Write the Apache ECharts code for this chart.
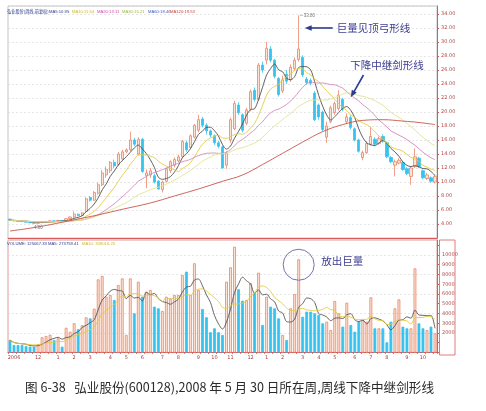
<!DOCTYPE html>
<html><head><meta charset="utf-8">
<script src="https://cdn.jsdelivr.net/npm/echarts/dist/echarts.min.js"></script>
<style>html,body{margin:0;padding:0;background:#fff;}#c{width:486px;height:411px;}</style>
</head><body><div id="c"></div>
<script>
// ---- data (weekly bars) ----
const firstWeek = [2006, 9, 13]; // 2006-10-13, weekly bars
const opens = [4.70,4.55,4.45,4.40,4.35,4.25,4.20,4.10,4.20,4.30,
4.35,4.45,4.35,4.50,4.40,4.75,5.00,5.40,5.20,5.80,
7.80,7.40,8.40,9.60,11.00,11.60,12.80,12.50,13.30,14.30,
14.60,16.00,14.00,16.10,10.90,11.00,10.90,10.10,8.90,10.10,
11.60,12.40,13.00,13.60,15.60,14.90,16.40,17.40,19.00,18.10,
17.30,16.60,15.60,15.00,12.40,16.00,17.60,21.00,19.60,18.40,
20.40,23.10,21.80,26.70,27.40,29.00,27.40,24.80,23.00,25.40,
24.60,26.20,27.50,27.80,24.70,24.50,22.70,21.00,20.00,16.40,
18.60,19.90,20.50,21.80,18.60,19.20,17.60,16.00,13.50,14.20,
15.40,16.10,15.50,16.50,15.60,13.50,12.40,12.70,12.80,11.90,
10.80,12.20,13.40,11.60,10.50,10.60,10.00];
const closes = [4.55,4.45,4.40,4.35,4.25,4.20,4.10,4.20,4.30,4.35,
4.45,4.35,4.50,4.40,4.75,5.00,5.40,5.20,5.60,7.60,
7.40,8.50,9.60,11.30,11.80,12.80,12.30,14.00,14.30,14.60,
16.00,15.40,16.10,11.50,11.30,11.60,10.00,9.00,10.00,11.90,
12.90,13.20,13.60,15.80,14.60,16.60,18.10,18.90,18.10,17.30,
16.70,15.60,15.10,12.00,14.10,18.90,21.20,19.90,17.40,20.30,
22.90,21.80,26.70,26.00,29.10,27.40,25.10,22.50,24.60,24.40,
26.40,27.40,29.00,25.30,24.20,24.10,18.90,19.30,17.50,18.00,
20.60,21.20,22.40,20.40,19.30,17.80,16.00,14.40,14.20,15.50,
16.50,15.40,16.20,15.90,13.60,12.90,12.90,13.10,11.80,11.20,
12.00,13.60,12.20,10.60,11.00,10.10,10.80];
const lows = [4.45,4.40,4.30,4.25,4.20,4.10,4.05,4.00,4.15,4.20,
4.30,4.30,4.30,4.35,4.35,4.70,4.90,5.10,5.10,5.70,
7.20,7.30,8.20,9.40,10.60,11.30,12.00,12.30,13.00,14.10,
14.40,15.10,13.80,11.30,9.10,10.60,9.80,8.90,8.50,9.90,
11.30,12.10,12.80,13.40,14.30,14.70,16.20,17.10,17.80,16.80,
16.40,15.30,14.80,11.90,11.90,15.60,17.40,19.60,17.10,18.10,
20.10,21.50,21.60,25.60,26.80,27.10,24.80,22.20,22.70,24.00,
24.30,25.90,27.20,25.00,23.90,23.80,18.70,18.90,17.20,15.60,
18.40,19.60,20.20,20.10,18.30,17.50,15.80,14.20,13.10,14.00,
15.20,15.10,15.30,15.60,13.40,12.70,10.80,12.50,11.60,11.00,
9.60,12.00,12.00,10.40,10.30,9.90,9.80];
const highs = [4.75,4.60,4.50,4.45,4.40,4.30,4.25,4.25,4.35,4.45,
4.50,4.55,4.60,4.55,4.85,5.10,5.80,5.50,5.70,7.80,
8.00,8.70,9.90,11.70,12.20,13.00,13.20,14.30,14.60,14.80,
17.20,16.30,16.40,16.30,11.80,12.00,11.20,10.30,10.20,12.10,
13.10,13.50,13.90,16.00,15.90,16.80,18.30,19.60,19.30,18.40,
17.50,16.80,15.90,15.20,14.40,19.20,21.60,21.40,19.80,20.60,
23.20,23.50,27.00,27.20,30.00,29.40,27.60,25.00,25.20,26.00,
26.80,27.80,33.80,28.10,25.00,24.80,23.00,21.20,20.20,18.60,
20.90,21.50,23.10,22.00,19.80,19.50,17.80,16.20,14.50,15.80,
17.90,16.40,16.50,16.80,15.80,13.70,13.20,13.40,13.00,12.10,
12.20,14.80,13.60,11.80,11.30,10.80,11.00];
const volumes = [1280,770,770,770,670,600,600,870,1560,1690,
1830,1280,1450,600,2540,2130,3000,2380,2800,3610,
3500,4500,7500,7850,5720,5900,5380,6920,7600,1800,
7600,4020,7260,5720,6240,6400,4700,4530,4260,5720,
5560,5900,5900,7950,8290,5900,9150,6400,4460,3610,
2070,2480,2070,1800,7260,8740,10850,6480,5310,5390,
7100,6070,8190,2820,5720,4700,4530,3500,1800,1280,
4530,6000,9560,3670,4190,4190,4020,3850,2990,3160,
2300,5280,4020,2650,5110,2820,2130,3160,3330,3160,
5660,2480,2480,2480,1050,3160,4530,5450,2650,2480,
2480,8630,2990,2480,2300,2650,1970];
// long red average line, key points [bar index, price]
const longMaKeys = [[0,3.0],[5,3.4],[10,3.9],[16,4.6],[22,5.3],[28,6.1],[35,7.0],[41,8.0],[47,9.0],[53,10.1],[58,11.0],[63,12.5],[68,14.1],[73,15.7],[78,17.2],[83,18.2],[88,18.8],[93,18.9],[98,18.7],[102,18.5],[106,18.2]];
const priceTicks = {min:2, max:35.14, step:2};
const volTicks = {min:0, max:11538, step:1000, gridStep:2000};
const priceHeader = [['弘业股份(周线,前复权)','#2a3a8a'],['MA5:10.95','#2a3a8a'],['MA10:11.64','#d2b820'],['MA20:13.11','#cc4aa8'],['MA30:15.21','#9cb83c'],['MA60:18.46','#3c5cc0'],['MA120:19.53','#d04040']];
const priceHeaderX = [7, 49, 72, 97, 122, 148, 170];
const volHeader = [['VOLUME: 125067.33','#2a3a8a'],['MA5: 273759.41','#2a3a8a'],['MA10: 338016.25','#d2b820']];
const volHeaderX = [7, 48, 82];
const notes = {top:'巨量见顶弓形线', sword:'下降中继剑形线', vol:'放出巨量'};
const caption = '图 6-38   弘业股份(600128),2008 年 5 月 30 日所在周,周线下降中继剑形线';

// ---- derived ----
const N = opens.length;
const categories = [], months = [];
for (let i = 0; i < N; i++) {
  const d = new Date(Date.UTC(firstWeek[0], firstWeek[1], firstWeek[2]) + i * 7 * 86400000);
  const m = d.getUTCMonth() + 1;
  months.push(m);
  categories.push(d.getUTCFullYear() + '-' + String(m).padStart(2,'0') + '-' + String(d.getUTCDate()).padStart(2,'0'));
}
function ma(arr, n) {
  return arr.map((v, i) => {
    const s = Math.max(0, i - n + 1); let t = 0;
    for (let j = s; j <= i; j++) t += arr[j];
    return +(t / (i - s + 1)).toFixed(3);
  });
}
const showLabel = i => i === 1 || (i >= 5 && months[i] !== months[i - 1]);
const candleData = opens.map((o, i) => [o, closes[i], lows[i], highs[i]]);
const upStyle = {color:'#fde3d4', borderColor:'#e8866a', borderWidth:0.8};
const downStyle = {color:'#38c2ee', borderColor:'#38c2ee', borderWidth:0.8};
const volData = volumes.map((v, i) => ({value:v, itemStyle: closes[i] >= opens[i] ? upStyle : downStyle}));
const red = '#d85a5a';
const lineS = (name, data, color, xi, yi) => ({name, type:'line', data, xAxisIndex:xi, yAxisIndex:yi, showSymbol:false, symbol:'none', smooth:0.3, silent:true, z:4, lineStyle:{color, width:0.9}});

const chart = echarts.init(document.getElementById('c'));
chart.setOption({
  animation:false,
  backgroundColor:'#ffffff',
  textStyle:{fontFamily:'"DejaVu Sans","Noto Sans CJK SC",sans-serif'},
  grid:[
    {left:8, top:6, width:429, height:232, show:true, borderColor:'#b4b4b4', borderWidth:0.8},
    {left:8, top:240, width:429, height:112.5, show:true, borderColor:'#d88080', borderWidth:0.8}
  ],
  xAxis:[
    {type:'category', gridIndex:0, data:categories, boundaryGap:true,
     axisLine:{lineStyle:{color:red, width:1}}, axisTick:{show:false}, axisLabel:{show:false}, splitLine:{show:false}},
    {type:'category', gridIndex:1, data:categories, boundaryGap:true,
     axisLine:{lineStyle:{color:red, width:1}},
     axisTick:{show:true, interval:(i) => i % 2 === 0, length:1.5, lineStyle:{color:red, width:0.8}},
     axisLabel:{interval:(i) => showLabel(i), formatter:(v, i) => i === 1 ? '2006' : String(months[i]), fontSize:5, color:'#a83c3c', margin:2.5}}
  ],
  yAxis:[
    {type:'value', gridIndex:0, position:'right', min:priceTicks.min, max:priceTicks.max, interval:priceTicks.step,
     axisLine:{show:true, lineStyle:{color:red}}, axisTick:{show:true, length:2, lineStyle:{color:red}},
     axisLabel:{fontSize:5, color:'#b04848', margin:4, formatter:v => v.toFixed(2), showMinLabel:false, showMaxLabel:false},
     splitLine:{show:true, lineStyle:{color:'#d6d6d6', type:[2,2], width:0.6}}},
    {type:'value', gridIndex:1, position:'right', min:volTicks.min, max:volTicks.max, interval:volTicks.step,
     axisLine:{show:true, lineStyle:{color:red}}, axisTick:{show:true, length:2, lineStyle:{color:red}},
     axisLabel:{fontSize:5, color:'#b04848', margin:5, showMaxLabel:false, formatter:v => (v >= 2000 && v <= 10000) ? String(v) : ''},
     splitLine:{show:false}},
    {type:'value', gridIndex:1, position:'right', min:volTicks.min, max:volTicks.max, interval:volTicks.gridStep,
     axisLine:{show:false}, axisTick:{show:false}, axisLabel:{show:false},
     splitLine:{show:true, lineStyle:{color:'#d6d6d6', type:[2,2], width:0.6}}}
  ],
  series:[
    {name:'K', type:'candlestick', data:candleData, xAxisIndex:0, yAxisIndex:0, barWidth:'70%', z:3, silent:true,
     itemStyle:{color:upStyle.color, borderColor:upStyle.borderColor, color0:downStyle.color, borderColor0:downStyle.borderColor, borderWidth:0.8}},
    lineS('MA5', ma(closes, 5), '#505050', 0, 0),
    lineS('MA10', ma(closes, 10), '#e4cc3a', 0, 0),
    lineS('MA20', ma(closes, 20), '#d486bc', 0, 0),
    lineS('MA30', ma(closes, 30), '#dfe48a', 0, 0),
    Object.assign(lineS('MA60', longMaKeys, '#c9544c', 0, 0), {smooth:0.4}),
    {name:'VOL', type:'bar', data:volData, xAxisIndex:1, yAxisIndex:1, barWidth:'70%', silent:true, z:2},
    lineS('VMA5', ma(volumes, 5), '#555555', 1, 1),
    lineS('VMA10', ma(volumes, 10), '#e4cc3a', 1, 1)
  ]
});

// ---- annotations anchored to data coordinates ----
const P0 = pt => chart.convertToPixel({xAxisIndex:0, yAxisIndex:0}, pt);
const P1 = pt => chart.convertToPixel({xAxisIndex:1, yAxisIndex:1}, pt);
const g = [];
const CJK = '"Noto Sans CJK SC","DejaVu Sans",sans-serif';
const LAT = '"Liberation Sans","DejaVu Sans",sans-serif';
function txt(x, y, s, color, size, font, align) {
  g.push({type:'text', x, y, silent:true, z:50, style:{text:s, fill:color, fontSize:size, fontFamily:font || CJK, textAlign:align || 'left', textVerticalAlign:'middle'}});
}
// headers
priceHeader.forEach(([s, c], k) => txt(priceHeaderX[k], 11.5, s, c, 4.2, k === 0 ? CJK : LAT));
volHeader.forEach(([s, c], k) => txt(volHeaderX[k], 243.8, s, c, 4.2, LAT));
// peak high label
const peakIdx = highs.indexOf(Math.max(...highs));
const pk = P0([peakIdx, highs[peakIdx]]);
g.push({type:'line', silent:true, z:50, shape:{x1:pk[0] + 1, y1:pk[1], x2:pk[0] + 4.5, y2:pk[1]}, style:{stroke:'#888', lineWidth:0.5}});
txt(pk[0] + 5, pk[1], highs[peakIdx].toFixed(2), '#777', 4.5, LAT);
// low label
const lowIdx = lows.indexOf(Math.min(...lows));
const lw = P0([lowIdx, lows[lowIdx]]);
g.push({type:'line', silent:true, z:50, shape:{x1:lw[0], y1:lw[1] + 1, x2:lw[0] - 3, y2:lw[1] + 3.5}, style:{stroke:'#888', lineWidth:0.5}});
txt(lw[0] - 4, lw[1] + 4, lows[lowIdx].toFixed(2), '#777', 4.5, LAT);
// arrow 1 (top)
const navy = '#2b3a94';
const a1 = P0([peakIdx, 32]);
const t1 = [a1[0] + 6, a1[1]];
g.push({type:'line', silent:true, z:50, shape:{x1:t1[0] + 5, y1:t1[1], x2:t1[0] + 28, y2:t1[1]}, style:{stroke:navy, lineWidth:1.6}});
g.push({type:'polygon', silent:true, z:50, shape:{points:[[t1[0], t1[1]], [t1[0] + 7, t1[1] - 2.8], [t1[0] + 7, t1[1] + 2.8]]}, style:{fill:navy}});
txt(t1[0] + 32, t1[1] + 0.5, notes.top, '#3c3c92', 10.5);
// arrow 2 (sword)
const a2 = P0([85, 22.1]);
const tail = [a2[0] + 12.7, a2[1] - 22.3];
const dx = a2[0] - tail[0], dy = a2[1] - tail[1], L = Math.hypot(dx, dy);
const ux = dx / L, uy = dy / L, px = -uy, py = ux;
const base = [a2[0] - 7 * ux, a2[1] - 7 * uy];
g.push({type:'line', silent:true, z:50, shape:{x1:tail[0], y1:tail[1], x2:base[0] + ux, y2:base[1] + uy}, style:{stroke:navy, lineWidth:1.6}});
g.push({type:'polygon', silent:true, z:50, shape:{points:[[a2[0], a2[1]], [base[0] + 2.8 * px, base[1] + 2.8 * py], [base[0] - 2.8 * px, base[1] - 2.8 * py]]}, style:{fill:navy}});
txt(a2[0] - 0.6, a2[1] - 32.3, notes.sword, '#3c3c92', 10.5);
// volume circle
const vc = P1([peakIdx, 9000]);
g.push({type:'circle', silent:true, z:50, shape:{cx:vc[0], cy:vc[1], r:15.5}, style:{fill:'none', stroke:'#7474b4', lineWidth:1}});
txt(vc[0] + 22.5, vc[1] - 4, notes.vol, '#3c3c92', 10.5);
// volume label box
g.push({type:'rect', silent:true, z:40, shape:{x:439.5, y:240, width:15.5, height:115}, style:{fill:'none', stroke:red, lineWidth:0.8}});
// caption
txt(25, 387, caption, '#2a2a2a', 12.6);
chart.setOption({graphic:g});
</script>
</body></html>
